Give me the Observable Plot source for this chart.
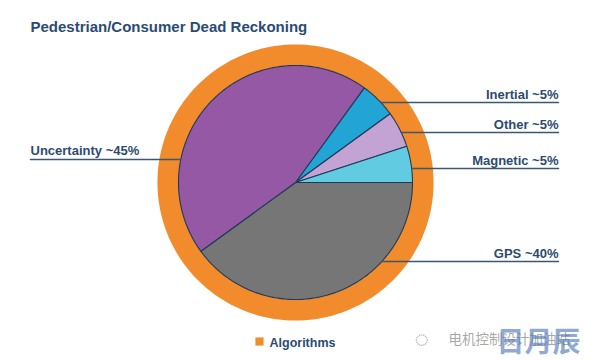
<!DOCTYPE html>
<html>
<head>
<meta charset="utf-8">
<script src="https://cdn.jsdelivr.net/npm/d3@7"></script>
<script src="https://cdn.jsdelivr.net/npm/@observablehq/plot@0.6"></script>
<style>
  html, body { margin: 0; padding: 0; background: #fff; }
  #chart { width: 600px; height: 360px; }
</style>
</head>
<body>
<div id="chart"></div>
<script>
// ---- data ----
const title = "Pedestrian/Consumer Dead Reckoning";
const categories = ["Inertial", "Other", "Magnetic", "GPS", "Uncertainty"];
const shares = [5, 5, 5, 40, 45];
const labels = ["Inertial ~5%", "Other ~5%", "Magnetic ~5%", "GPS ~40%", "Uncertainty ~45%"];
const ringSeries = ["Algorithms"];
const watermark = "电机控制设计加油站";
const watermarkLogo = "日月辰";

// ---- styles / layout ----
const sliceColors = ["#22a4d4", "#c3a2d4", "#61cbe1", "#767676", "#9558a5"];
const ringColor = "#f28b2c";
const outlineColor = "#1f3b58";
const textColor = "#2d4b6f";
const leaderColor = "#3e5670";
const R = 117;            // pixels per unit radius
const CX = 295, CY = 182; // pie centre in pixels
const ringRadius = 1.18;
const startDeg = 36;
// leader-line levels (pixel rows) and text ends
const labelRow = {Inertial: 102, Other: 132, Magnetic: 168, GPS: 261, Uncertainty: 159};
const rightEnd = 558, leftEnd = 30;

const ux = px => (px - CX) / R;
const uy = py => (CY - py) / R;

// ---- geometry from data ----
const table = categories.map((c, i) => ({name: c, value: shares[i], color: sliceColors[i], label: labels[i]}));
const arcs = d3.pie().sort(null).value(d => d.value)
  .startAngle(startDeg * Math.PI / 180)
  .endAngle(startDeg * Math.PI / 180 + 2 * Math.PI)(table);

const slicePts = [];
for (const a of arcs) {
  const n = Math.max(2, Math.ceil((a.endAngle - a.startAngle) / (Math.PI / 180)));
  slicePts.push({name: a.data.name, color: a.data.color, x: 0, y: 0});
  for (let k = 0; k <= n; k++) {
    const t = a.startAngle + (a.endAngle - a.startAngle) * k / n;
    slicePts.push({name: a.data.name, color: a.data.color, x: Math.sin(t), y: Math.cos(t)});
  }
  slicePts.push({name: a.data.name, color: a.data.color, x: 0, y: 0});
}

const ringPts = d3.range(0, 361, 2).map(deg => ({
  name: ringSeries[0],
  x: ringRadius * Math.sin(deg * Math.PI / 180),
  y: ringRadius * Math.cos(deg * Math.PI / 180)
}));

const leaders = [];
const labelPos = [];
for (const a of arcs) {
  const mid = (a.startAngle + a.endAngle) / 2;
  const right = Math.sin(mid) > 0;
  const y = uy(labelRow[a.data.name]);
  const edge = Math.sqrt(Math.max(0, 1 - y * y));
  const x0 = right ? edge : -edge;
  const x1 = right ? ux(rightEnd) : ux(leftEnd);
  leaders.push({name: a.data.name, x: x0, y}, {name: a.data.name, x: x1, y});
  labelPos.push({label: a.data.label, x: x1, y, anchor: right ? "end" : "start"});
}

const font = "'Liberation Sans', Arial, Helvetica, sans-serif";

const chart = Plot.plot({
  width: 600,
  height: 360,
  margin: 0,
  x: {domain: [ux(0), ux(600)], axis: null},
  y: {domain: [uy(360), uy(0)], axis: null},
  color: {type: "identity"},
  style: {fontFamily: font, background: "#fff", overflow: "visible"},
  marks: [
    Plot.line(ringPts, {x: "x", y: "y", fill: ringColor, stroke: "none"}),
    Plot.line(slicePts, {x: "x", y: "y", z: "name", fill: "color", stroke: outlineColor, strokeWidth: 1.1, strokeLinejoin: "round"}),
    Plot.line(leaders, {x: "x", y: "y", z: "name", stroke: leaderColor, strokeWidth: 1.5}),
    Plot.text(labelPos.filter(d => d.anchor === "end"), {x: "x", y: "y", text: "label", textAnchor: "end", lineAnchor: "bottom", dy: -4, fill: textColor, fontSize: 13, fontWeight: "bold"}),
    Plot.text(labelPos.filter(d => d.anchor === "start"), {x: "x", y: "y", text: "label", textAnchor: "start", lineAnchor: "bottom", dy: -5, fill: textColor, fontSize: 13, fontWeight: "bold"}),
    Plot.text([title], {frameAnchor: "top-left", text: d => d, dx: 30, dy: 31, lineAnchor: "bottom", textAnchor: "start", fill: "#2a4c74", fontSize: 15, fontWeight: "bold"}),
    Plot.dot(ringSeries, {frameAnchor: "top-left", dx: 259, dy: 341, symbol: "square", r: 4.6, fill: ringColor, stroke: "none"}),
    Plot.text(ringSeries, {frameAnchor: "top-left", text: d => d, dx: 269, dy: 346, lineAnchor: "bottom", textAnchor: "start", fill: textColor, fontSize: 12.5, fontWeight: "bold"}),
    Plot.text(["◌"], {frameAnchor: "top-left", text: d => d, dx: 414, dy: 346, lineAnchor: "bottom", textAnchor: "start", fill: "#a0a0a0", fontSize: 24}),
    Plot.text([watermark], {frameAnchor: "top-left", text: d => d, dx: 448, dy: 343, lineAnchor: "bottom", textAnchor: "start", fill: "#8a8a8a", fillOpacity: 0.75, fontSize: 13.5, fontFamily: "'Noto Sans CJK SC', sans-serif"}),
    Plot.text([watermarkLogo], {frameAnchor: "top-left", text: d => d, dx: 496, dy: 351, lineAnchor: "bottom", textAnchor: "start", fill: "#4f78b8", fillOpacity: 0.65, fontSize: 28, fontWeight: "bold", fontFamily: "'Noto Sans CJK SC', sans-serif"})
  ]
});
document.getElementById("chart").appendChild(chart);
</script>
</body>
</html>
